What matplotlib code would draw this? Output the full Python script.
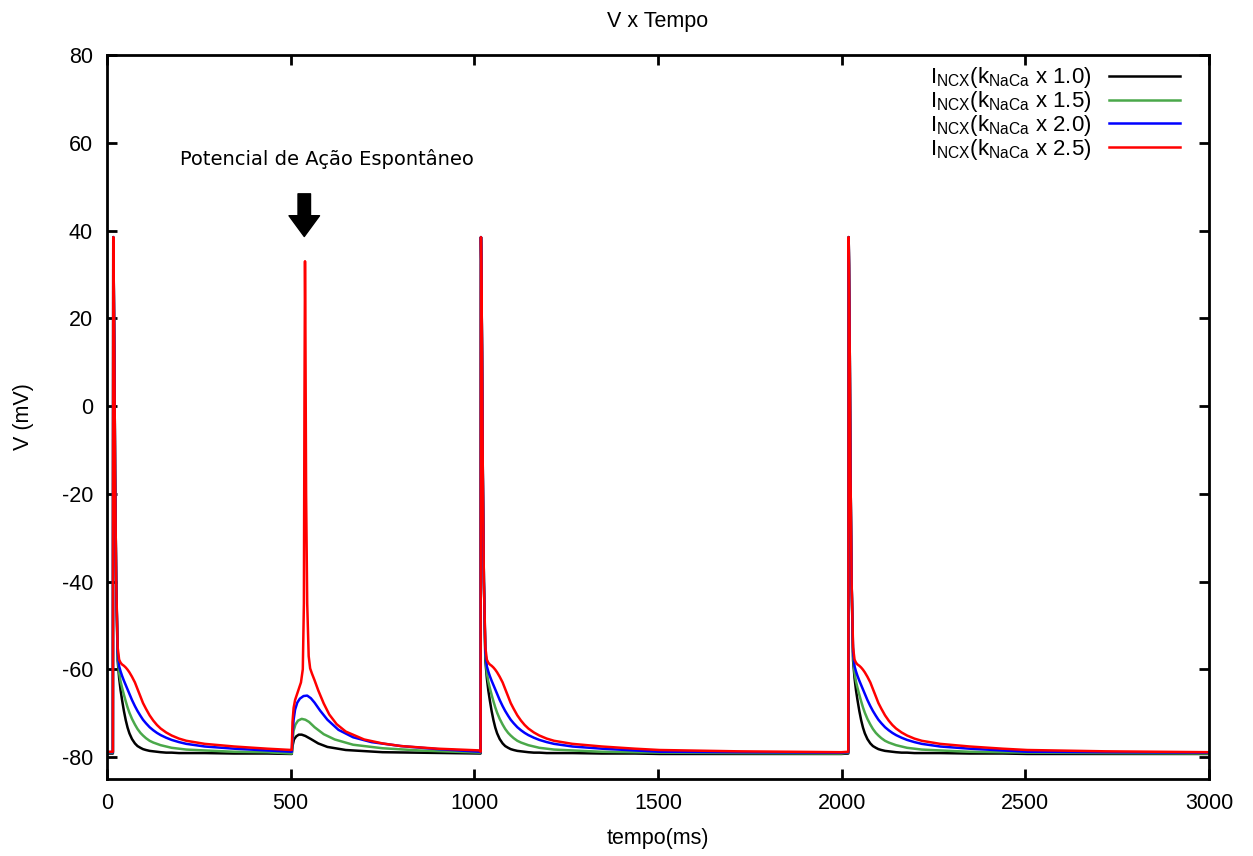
"""V x Tempo: membrane potential for different NCX scaling factors."""
import matplotlib
matplotlib.use("Agg")
import matplotlib.pyplot as plt
import numpy as np

plt.rcParams["font.family"] = ["Liberation Sans", "DejaVu Sans"]
plt.rcParams["mathtext.fontset"] = "custom"
plt.rcParams["mathtext.rm"] = "Liberation Sans"
plt.rcParams["axes.unicode_minus"] = False

# Stimulus times (ms) of the evoked action potentials.
stim_times = [16, 1017, 2018]

# Evoked AP shape, time relative to stimulus (ms).
ap_rel_t = [0, 1, 2, 4, 6, 9, 13, 17, 21, 25, 30, 35, 40, 45, 52, 60, 67, 75,
            82, 90, 100, 110, 120, 130, 145, 160, 180, 200, 250, 330, 420, 487,
            700, 982]
spike_v = [38.5, 32.0, 12.0, -15.0, -40.0]  # shared upstroke/downstroke

ap_v_10 = [-79.2] + spike_v + [
    -58.0, -62.0, -64.8, -67.0, -69.5, -71.6, -73.3, -74.6, -75.9, -76.9,
    -77.5, -77.9, -78.2, -78.4, -78.6, -78.7, -78.8, -78.9, -79.0, -79.0,
    -79.1, -79.1, -79.1, -79.2, -79.2, -79.3, -79.3, -79.3]
ap_v_15 = [-79.0] + spike_v + [
    -57.0, -60.8, -62.8, -64.2, -65.8, -67.3, -68.7, -69.9, -71.3, -72.6,
    -73.6, -74.5, -75.1, -75.7, -76.3, -76.7, -77.0, -77.3, -77.6, -77.9,
    -78.1, -78.3, -78.5, -78.8, -78.9, -79.0, -79.1, -79.2]
ap_v_20 = [-78.9] + spike_v + [
    -56.0, -59.3, -60.5, -61.5, -62.6, -63.6, -64.6, -65.6, -67.0, -68.4,
    -69.5, -70.6, -71.5, -72.3, -73.2, -73.9, -74.5, -75.0, -75.6, -76.1,
    -76.6, -77.0, -77.6, -78.1, -78.5, -78.8, -78.9, -79.0]
ap_v_25 = [-78.8] + spike_v + [
    -55.0, -57.8, -58.5, -58.9, -59.2, -59.6, -60.1, -60.7, -61.7, -63.0,
    -64.5, -66.2, -67.7, -69.0, -70.5, -71.7, -72.7, -73.5, -74.4, -75.1,
    -75.8, -76.3, -77.0, -77.6, -78.1, -78.4, -78.7, -78.9]

# Spontaneous event after ~503 ms (absolute time, ms).
sp_t_10 = [503, 505, 509, 515, 522, 530, 540, 555, 575, 600, 650, 750, 1016]
sp_v_10 = [-79.3, -77.5, -76.0, -75.3, -74.9, -74.9, -75.2, -75.9, -76.9,
           -77.7, -78.4, -78.9, -79.2]
sp_t_15 = [503, 505, 508, 513, 520, 530, 540, 550, 565, 590, 620, 670, 750,
           850, 1016]
sp_v_15 = [-79.2, -76.5, -74.0, -72.6, -71.7, -71.3, -71.5, -72.0, -73.2,
           -74.8, -76.0, -77.2, -78.0, -78.5, -79.0]
sp_t_20 = [503, 505, 508, 512, 518, 525, 535, 545, 555, 565, 580, 600, 630,
           670, 720, 800, 900, 1016]
sp_v_20 = [-78.8, -75.0, -71.5, -69.2, -67.6, -66.7, -66.1, -66.0, -66.6,
           -67.6, -69.4, -71.5, -73.8, -75.5, -76.6, -77.5, -78.2, -78.8]
sp_t_25 = [503, 505, 508, 512, 520, 528, 533, 536, 537.5, 539, 540, 542, 545,
           549, 553, 558, 565, 575, 590, 605, 625, 650, 700, 750, 800, 900,
           1016]
sp_v_25 = [-78.4, -72.0, -68.8, -67.0, -65.0, -63.0, -60.0, -45.0, 0.0, 33.0,
           20.0, -20.0, -45.0, -57.0, -59.8, -61.0, -62.5, -64.8, -67.8,
           -70.3, -72.5, -74.2, -76.0, -76.9, -77.5, -78.1, -78.5]

labels = [r"I$_{\mathrm{NCX}}$(k$_{\mathrm{NaCa}}$ x 1.0)",
          r"I$_{\mathrm{NCX}}$(k$_{\mathrm{NaCa}}$ x 1.5)",
          r"I$_{\mathrm{NCX}}$(k$_{\mathrm{NaCa}}$ x 2.0)",
          r"I$_{\mathrm{NCX}}$(k$_{\mathrm{NaCa}}$ x 2.5)"]
colors = ["black", "#4aa84a", "#0000ff", "#ff0000"]


def build_trace(ap_v, sp_t, sp_v):
    """Assemble the full trace from the read-off AP shape and spontaneous event."""
    t = [0.0]
    v = [ap_v[0]]
    ap_rel = np.array(ap_rel_t, dtype=float)
    ap_vals = np.array(ap_v)
    # first AP, until the spontaneous event
    keep = ap_rel < sp_t[0] - stim_times[0]
    t += list(stim_times[0] + ap_rel[keep])
    v += list(ap_vals[keep])
    t += sp_t
    v += sp_v
    # later evoked APs, full tail
    for i, ts in enumerate(stim_times[1:]):
        end = stim_times[i + 2] if i + 2 < len(stim_times) else 3001
        keep = ts + ap_rel < end
        t += list(ts + ap_rel[keep])
        v += list(ap_vals[keep])
    return t, v


fig = plt.figure(figsize=(12.53, 8.56), dpi=100)
ax = fig.add_axes([0.0854, 0.090, 0.8795, 0.8457])

traces = [(ap_v_10, sp_t_10, sp_v_10), (ap_v_15, sp_t_15, sp_v_15),
          (ap_v_20, sp_t_20, sp_v_20), (ap_v_25, sp_t_25, sp_v_25)]
for (ap_v, sp_t, sp_v), lab, col in zip(traces, labels, colors):
    t, v = build_trace(ap_v, sp_t, sp_v)
    ax.plot(t, v, color=col, lw=1.8, label=lab)

ax.set_xlim(0, 3000)
ax.set_ylim(-85, 80)
ax.set_xticks(np.arange(0, 3001, 500))
ax.set_yticks(np.arange(-80, 81, 20))
ax.tick_params(direction="in", length=7, width=2, top=True, right=True,
               labelsize=15.5, pad=10)
ax.tick_params(axis="x", pad=10)
for sp in ax.spines.values():
    sp.set_linewidth(2)

ax.set_title("V x Tempo", fontsize=15.5, pad=20)
ax.set_xlabel("tempo(ms)", fontsize=15.5, labelpad=10)
ax.set_ylabel("V (mV)", fontsize=15.5, labelpad=20)

ax.annotate("", xy=(537, 38), xytext=(537, 49),
            arrowprops=dict(arrowstyle="simple,head_length=0.75,head_width=1.1,"
                                       "tail_width=0.45",
                            mutation_scale=20, color="black"))
ax.text(600, 56.3, "Potencial de Ação Espontâneo", family="DejaVu Sans",
        fontsize=14, ha="center", va="center")

ax.legend(loc="upper right", bbox_to_anchor=(0.986, 1.004), frameon=False,
          markerfirst=False, fontsize=16, handlelength=3.2, labelspacing=-0.05,
          borderaxespad=0.2, borderpad=0.4, handletextpad=0.8)

fig.savefig("out.png", dpi=100)
